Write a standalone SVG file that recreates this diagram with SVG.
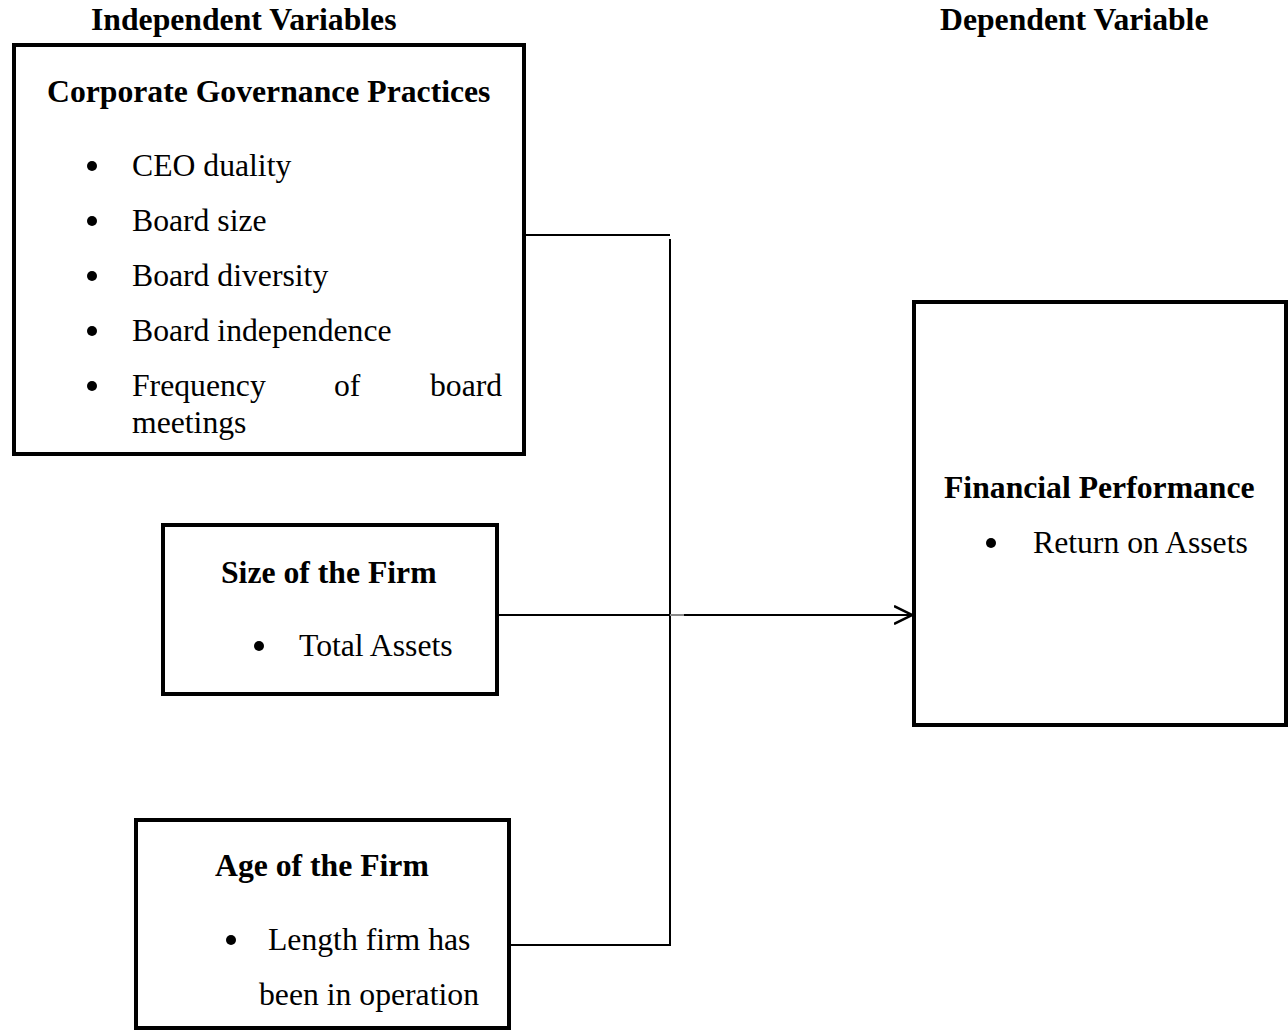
<svg xmlns="http://www.w3.org/2000/svg" width="1288" height="1030" viewBox="0 0 1288 1030">
<style>
text{font-family:"Liberation Serif","Times New Roman",serif;font-size:31.7px;fill:#000}
.b{font-weight:bold}
.box{fill:#fff;stroke:#000;stroke-width:4}
.ln{fill:none;stroke:#000;stroke-width:2}
</style>
<defs>
<marker id="arr" markerWidth="20" markerHeight="20" refX="18" refY="10" orient="auto" markerUnits="userSpaceOnUse">
<path d="M0,1 L18,10 L0,19" fill="none" stroke="#000" stroke-width="2.5"/>
</marker>
</defs>
<text class="b" x="91" y="30">Independent Variables</text>
<text class="b" x="940" y="30">Dependent Variable</text>
<g id="connectors">
<line class="ln" x1="524" y1="235" x2="670" y2="235"/>
<line class="ln" x1="670" y1="239" x2="670" y2="946"/>
<line class="ln" x1="497" y1="615" x2="670" y2="615"/>
<line x1="670" y1="615" x2="684" y2="615" stroke="#888" stroke-width="2"/>
<line class="ln" x1="684" y1="615" x2="912" y2="615" marker-end="url(#arr)"/>
<line class="ln" x1="509" y1="945" x2="670" y2="945"/>
</g>
<g id="corporate-governance">
<rect class="box" x="14" y="45" width="510" height="409"/>
<text class="b" x="47" y="102">Corporate Governance Practices</text>
<circle cx="92" cy="166" r="5"/><text x="132" y="176">CEO duality</text>
<circle cx="92" cy="221" r="5"/><text x="132" y="231">Board size</text>
<circle cx="92" cy="276" r="5"/><text x="132" y="286">Board diversity</text>
<circle cx="92" cy="331" r="5"/><text x="132" y="341">Board independence</text>
<circle cx="92" cy="386" r="5"/><text y="396"><tspan x="132">Frequency</tspan><tspan x="334">of</tspan><tspan x="430">board</tspan></text>
<text x="132" y="433">meetings</text>
</g>
<g id="size-of-firm">
<rect class="box" x="163" y="525" width="334" height="169"/>
<text class="b" x="221" y="583">Size of the Firm</text>
<circle cx="259" cy="646" r="5"/><text x="299" y="656">Total Assets</text>
</g>
<g id="age-of-firm">
<rect class="box" x="136" y="820" width="373" height="208"/>
<text class="b" x="215" y="876">Age of the Firm</text>
<circle cx="231" cy="940" r="5"/><text x="268" y="950">Length firm has</text>
<text x="259" y="1005">been in operation</text>
</g>
<g id="financial-performance">
<rect class="box" x="914" y="302" width="372" height="423"/>
<text class="b" x="944" y="498">Financial Performance</text>
<circle cx="991" cy="543" r="5"/><text x="1033" y="553">Return on Assets</text>
</g>
</svg>
